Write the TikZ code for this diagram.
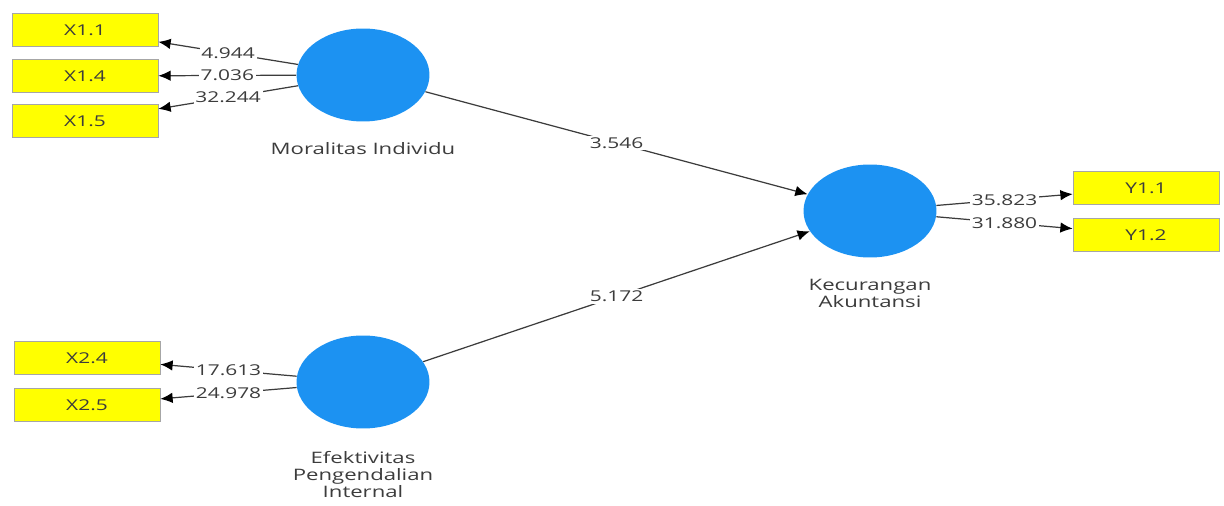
\documentclass[tikz,border=0pt]{standalone}
\usepackage{fontspec}
\setmainfont{Open Sans}[FakeStretch=1.4]
\usetikzlibrary{shapes.geometric, arrows.meta, positioning}
\definecolor{plsblue}{RGB}{28,146,242}
\definecolor{plsyellow}{RGB}{255,255,0}
\definecolor{plsgray}{RGB}{60,60,60}

\begin{document}
\begin{tikzpicture}[
    x=0.02cm, y=-0.02cm,
    latent/.style={ellipse, fill=plsblue, minimum width=2.66cm, minimum height=1.86cm, inner sep=0pt},
    indicator/.style={rectangle, draw=black!35, fill=plsyellow, minimum width=2.92cm, minimum height=0.66cm, font=\fontsize{8.5}{10}\selectfont, text=plsgray},
    caption/.style={align=center, font=\fontsize{9}{9.8}\selectfont, text=plsgray},
    arrow/.style={-{Latex[length=7pt, width=6pt, color=black]}, draw=plsgray, line width=0.7pt},
    weight/.style={fill=white, inner sep=1pt, font=\fontsize{8.5}{10}\selectfont, text=plsgray}
]
    \useasboundingbox (0,0) rectangle (1224,506);

    % Constructs
    \node[latent] (mi) at (363,75) {};
    \node[latent] (epi) at (363,382) {};
    \node[latent] (ka) at (870,211) {};

    \node[caption, below=0.28cm of mi] (mi-lbl) {Moralitas Individu};
    \node[caption, below=0.32cm of epi] (epi-lbl) {Efektivitas\\Pengendalian\\Internal};
    \node[caption, below=0.3cm of ka] (ka-lbl) {Kecurangan\\Akuntansi};

    % Indicators
    \node[indicator] (x11) at (85,30) {X1.1};
    \node[indicator] (x14) at (85,76) {X1.4};
    \node[indicator] (x15) at (85,121) {X1.5};
    \node[indicator] (x24) at (87,358) {X2.4};
    \node[indicator] (x25) at (87,405) {X2.5};
    \node[indicator] (y11) at (1146,188) {Y1.1};
    \node[indicator] (y12) at (1146,235) {Y1.2};

    % Outer loadings
    \draw[arrow] (mi) -- node[weight] {4.944} (x11);
    \draw[arrow] (mi) -- node[weight] {7.036} (x14);
    \draw[arrow] (mi) -- node[weight] {32.244} (x15);
    \draw[arrow] (epi) -- node[weight] {17.613} (x24);
    \draw[arrow] (epi) -- node[weight] {24.978} (x25);
    \draw[arrow] (ka) -- node[weight] {35.823} (y11);
    \draw[arrow] (ka) -- node[weight] {31.880} (y12);

    % Paths
    \draw[arrow] (mi) -- node[weight] {3.546} (ka);
    \draw[arrow] (epi) -- node[weight] {5.172} (ka);
\end{tikzpicture}
\end{document}
